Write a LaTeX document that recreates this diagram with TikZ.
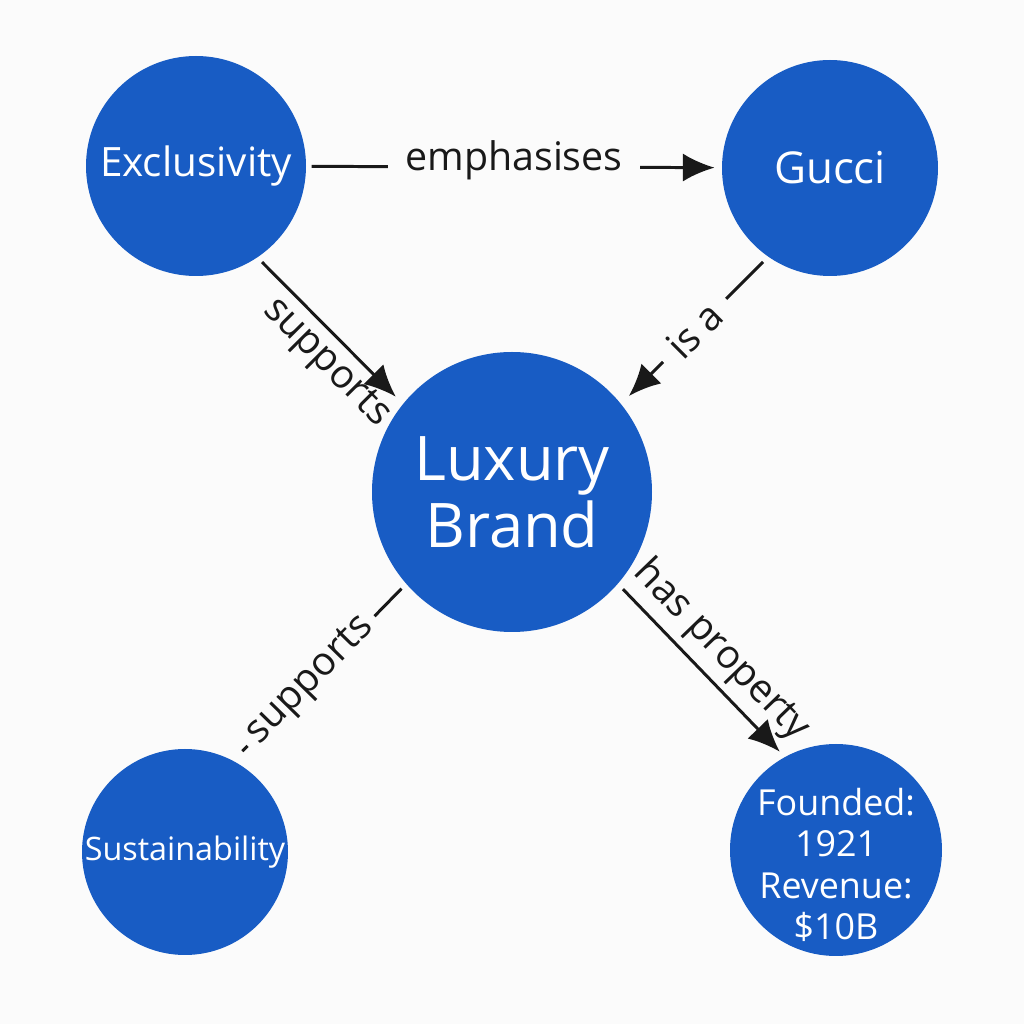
\documentclass[tikz,border=0pt]{standalone}
\usepackage{fontspec}
\setmainfont{Open Sans}
\usetikzlibrary{arrows.meta}
\definecolor{brandblue}{RGB}{24,92,196}
\definecolor{paper}{RGB}{251,251,251}
\begin{document}
\begin{tikzpicture}[>={Latex[length=9pt,width=8pt]}, line width=0.85pt,
  concept/.style={circle, fill=brandblue, text=white, inner sep=0pt, align=center},
  link/.style={draw=black!90},
  lbl/.style={font=\fontsize{11.2}{13}\selectfont, text=black!90, inner sep=2pt}]
\fill[paper] (0,0) rectangle (10.24,10.24);
\useasboundingbox (0,0) rectangle (10.24,10.24);

\node[concept, minimum size=2.2cm, font=\fontsize{11.5}{13}\selectfont] (excl) at (1.96,8.58) {Exclusivity};
\node[concept, minimum size=2.16cm, font=\fontsize{12.5}{14}\selectfont] (gucci) at (8.30,8.56) {Gucci};
\node[concept, minimum size=2.8cm, font=\fontsize{17.5}{19}\selectfont] (lux) at (5.12,5.32) {Luxury\\Brand};
\node[concept, minimum size=2.06cm, font=\fontsize{9.2}{11}\selectfont] (sust) at (1.85,1.72) {Sustainability};
\node[concept, minimum size=2.12cm] (facts) at (8.36,1.74) {};
\node[text=white, align=center, font=\fontsize{10.2}{11.8}\selectfont] (factstext) at ([yshift=-0.15cm]facts.center) {Founded:\\1921\\Revenue:\\\$10B};

\draw[link, ->, shorten <=1.2pt, shorten >=1.7pt] (excl) -- node[lbl, fill=paper, inner xsep=5pt, yshift=2pt]{emphasises} (gucci);
\draw[link, ->, shorten <=1.5pt, shorten >=2.5pt] (excl.-56) -- node[lbl, sloped, below, pos=0.6]{supports} (lux.141);
\draw[link, ->, shorten <=1.7pt, shorten >=2.8pt] (gucci.-125) -- node[lbl, sloped, fill=paper, inner sep=4pt]{is a} (lux.39);
\draw[link, shorten <=1.5pt, shorten >=3.4pt] (lux.-139) -- node[lbl, sloped, fill=paper, inner xsep=2.5pt, pos=0.55]{supports} (sust.62);
\draw[link, ->, shorten <=1.7pt, shorten >=1.7pt] (lux.-41) -- node[lbl, sloped, above]{has property} (facts.119);
\end{tikzpicture}
\end{document}
